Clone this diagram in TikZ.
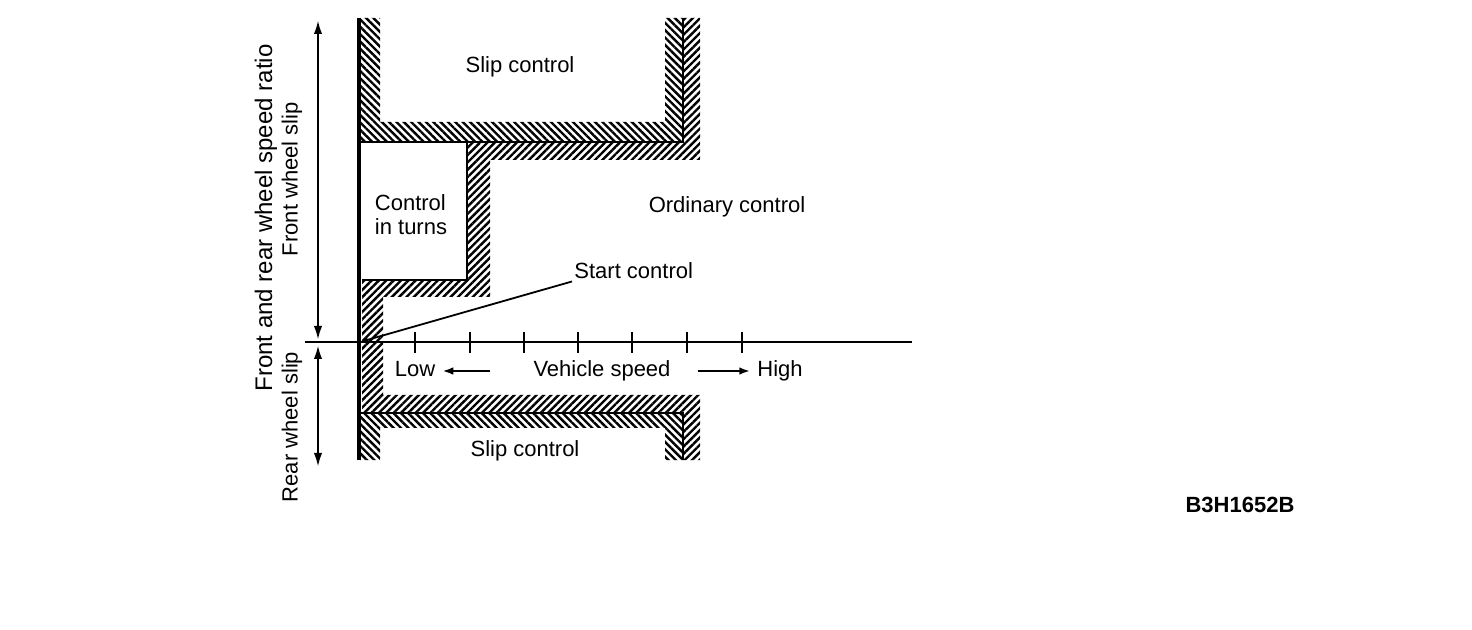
\documentclass[tikz,border=0pt]{standalone}
\usepackage{fontspec}
\setmainfont{Liberation Sans}
\usetikzlibrary{arrows.meta,patterns.meta,positioning}

\begin{document}
\begin{tikzpicture}[x=0.5pt,y=-0.5pt,
  font=\fontsize{11}{12}\selectfont,
  fwd/.style={pattern={Lines[angle=45,distance=2.6pt,line width=1.2pt]}},
  bwd/.style={pattern={Lines[angle=-45,distance=2.6pt,line width=1.2pt]}},
  bound/.style={line width=1.1pt},
  axis/.style={line width=1.3pt},
  tick/.style={line width=1pt},
  lbl/.style={text height=8pt,text depth=2pt},
  dim/.style={{Latex[length=7pt,width=4.2pt]}-{Latex[length=7pt,width=4.2pt]},line width=1.2pt},
  sm/.style={-{Latex[length=5.5pt,width=3.8pt]},line width=1.2pt}]
\useasboundingbox (0,0) rectangle (1472,630);
% hatched bands
\fill[bwd] (360,18) -- (380,18) -- (380,122) -- (665,122) -- (665,18) -- (683,18)
  -- (683,142) -- (360,142) -- cycle;
\fill[bwd] (360,413) -- (683,413) -- (683,460) -- (665,460) -- (665,428) -- (380,428)
  -- (380,460) -- (360,460) -- cycle;
\fill[fwd] (683,18) -- (700,18) -- (700,160) -- (490,160) -- (490,297) -- (383,297)
  -- (383,395) -- (700,395) -- (700,460) -- (683,460) -- (683,413) -- (362,413)
  -- (362,280) -- (467,280) -- (467,142) -- (683,142) -- cycle;
\draw[bound] (360,142) -- (683,142) -- (683,18);
\draw[bound] (360,413) -- (683,413) -- (683,460);
\draw[bound] (362,280) -- (467,280) -- (467,142);
% axes
\coordinate (o) at (360,342);
\coordinate (xend) at (912,342);
\coordinate (xbeg) at (305,342);
\coordinate (ytop) at (359,18);
\coordinate (ybot) at (359,460);
\draw[axis] (xbeg) -- (xend);
\draw[line width=1.6pt] (ytop) -- (ybot);
\foreach \x in {415,470,524,578,632,687,742}
  \draw[tick] (\x,332) -- (\x,353);
% dimension arrows
\coordinate (d1) at (318,20);
\coordinate (d2) at (318,340);
\coordinate (d3) at (318,345);
\coordinate (d4) at (318,467);
\draw[dim] (d1) -- (d2);
\draw[dim] (d3) -- (d4);
% labels
\node (slipup) at (520,67) {Slip control};
\node (ordinary) at (727,207) {Ordinary control};
\node[align=left] (turns) at (411,215) {Control\\in turns};
\node[anchor=west,inner sep=1pt] (start) at (572,271) {Start control};
\node[lbl] (low) at (415,371) {Low};
\node[lbl] (vspeed) at (602,371) {Vehicle speed};
\node[lbl] (high) at (780,371) {High};
\node (sliplow) at (525,451) {Slip control};
\node[rotate=90,font=\fontsize{12}{13}\selectfont] (ratio) at (266,218)
  {Front and rear wheel speed ratio};
\node[rotate=90] (frontslip) at (292,179) {Front wheel slip};
\node[rotate=90] (rearslip) at (292,427) {Rear wheel slip};
\node[font=\fontsize{11}{12}\selectfont\bfseries] (fig) at (1240,505) {B3H1652B};
\draw[sm] ([xshift=-18pt]vspeed.west) -- (low.east);
\draw[sm] ([xshift=10pt]vspeed.east) -- (high.west);
\draw[line width=0.9pt,-{Latex[length=4pt,width=3.4pt]}] (start.south west) -- (o);
\end{tikzpicture}
\end{document}
